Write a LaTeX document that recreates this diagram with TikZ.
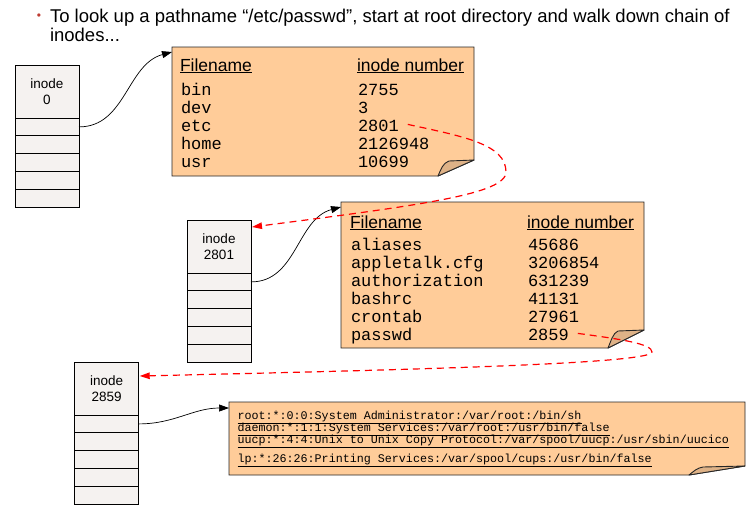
\documentclass[tikz,border=0pt]{standalone}
\usepackage{fontspec}
\setmainfont{Liberation Sans}
\newfontfamily\monof{Liberation Mono}
\usetikzlibrary{arrows.meta,calc}
\definecolor{peach}{RGB}{255,204,153}
\definecolor{foldc}{RGB}{222,178,135}
\definecolor{inodec}{RGB}{245,242,240}
\definecolor{bulletc}{RGB}{190,60,50}
\definecolor{redline}{RGB}{255,0,0}
\newcommand{\titlesize}{\fontsize{18.5pt}{19pt}\selectfont}
\begin{document}
\begin{tikzpicture}[x=1pt,y=-1pt,
  inodetop/.style={draw=black, fill=inodec, line width=0.9pt, minimum width=64pt, minimum height=53pt, inner sep=0pt, outer sep=0pt, align=center, font=\fontsize{13.5}{16}\selectfont},
  inodecell/.style={draw=black, fill=inodec, line width=0.9pt, minimum width=64pt, minimum height=17.8pt, inner sep=0pt, outer sep=0pt, anchor=north},
  frame/.style={inner sep=0pt, outer sep=0pt},
  body/.style={fill=peach, draw=black!85, line width=0.9pt, line join=miter},
  fold/.style={fill=foldc, draw=black!85, line width=0.9pt, line join=round},
  txt/.style={anchor=base west, inner sep=0pt, outer sep=0pt},
  hdr/.style={txt, font=\fontsize{17.5}{18}\selectfont},
  mono/.style={txt, font=\monof\fontsize{17}{18}\selectfont},
  tiny/.style={txt, font=\monof\fontsize{11.7}{12}\selectfont},
  link/.style={-{Triangle[length=10pt,width=7pt]}, line width=0.7pt, black},
  ptr/.style={-{Triangle[length=10pt,width=6.5pt]}, draw=redline, dash pattern=on 7pt off 5pt, line width=1.2pt},
]
\useasboundingbox (0,0) rectangle (752,512);

% title
\node[inner sep=0pt, font=\fontsize{12}{12}\selectfont] (bul) at (39,16.5) {\textcolor{bulletc}{\textbullet}};
\node[txt] (title1) at (50,22) {\titlesize To look up a pathname “/etc/passwd”, start at root directory and walk down chain of};
\node[txt] (title2) at (50,41) {\titlesize inodes...};

% inode 0
\node[inodetop] (i0) at (47,91.5) {inode\\0};
\node[inodecell] (i0c1) at (i0.south) {};
\node[inodecell] (i0c2) at (i0c1.south) {};
\node[inodecell] (i0c3) at (i0c2.south) {};
\node[inodecell] (i0c4) at (i0c3.south) {};
\node[inodecell] (i0c5) at (i0c4.south) {};

% inode 2801
\node[inodetop] (i1) at (219,246.5) {inode\\2801};
\node[inodecell] (i1c1) at (i1.south) {};
\node[inodecell] (i1c2) at (i1c1.south) {};
\node[inodecell] (i1c3) at (i1c2.south) {};
\node[inodecell] (i1c4) at (i1c3.south) {};
\node[inodecell] (i1c5) at (i1c4.south) {};

% inode 2859
\node[inodetop] (i2) at (106.7,388.5) {inode\\2859};
\node[inodecell] (i2c1) at (i2.south) {};
\node[inodecell] (i2c2) at (i2c1.south) {};
\node[inodecell] (i2c3) at (i2c2.south) {};
\node[inodecell] (i2c4) at (i2c3.south) {};
\node[inodecell] (i2c5) at (i2c4.south) {};

% table 1 (root directory)
\node[frame, minimum width=302pt, minimum height=129pt] (t1) at (323,111.5) {};
\path[body] (t1.north west) -- (t1.north east) -- ($(t1.south east)+(0,-16)$) -- ($(t1.south east)+(-36,0)$) -- (t1.south west) -- cycle;
\path[fold] ($(t1.south east)+(-36,0)$) .. controls ($(t1.south east)+(-33,-7)$) and ($(t1.south east)+(-31,-13)$) .. ($(t1.south east)+(-25,-15)$) -- ($(t1.south east)+(0,-16)$) -- cycle;
\node[hdr] (t1h1) at (180,71) {\underline{Filename}};
\node[hdr] (t1h2) at (357,71) {\underline{inode number}};
\node[mono] (t1r1a) at (181,95) {bin};      \node[mono] (t1r1b) at (358,95) {2755};
\node[mono] (t1r2a) at (181,113) {dev};     \node[mono] (t1r2b) at (358,113) {3};
\node[mono] (t1r3a) at (181,131) {etc};     \node[mono] (t1r3b) at (358,131) {2801};
\node[mono] (t1r4a) at (181,149) {home};    \node[mono] (t1r4b) at (358,149) {2126948};
\node[mono] (t1r5a) at (181,167) {usr};     \node[mono] (t1r5b) at (358,167) {10699};

% table 2 (/etc)
\node[frame, minimum width=303pt, minimum height=146pt] (t2) at (492.5,275) {};
\path[body] (t2.north west) -- (t2.north east) -- ($(t2.south east)+(0,-18)$) -- ($(t2.south east)+(-36,0)$) -- (t2.south west) -- cycle;
\path[fold] ($(t2.south east)+(-36,0)$) .. controls ($(t2.south east)+(-33,-7)$) and ($(t2.south east)+(-31,-15)$) .. ($(t2.south east)+(-26,-17)$) -- ($(t2.south east)+(0,-18)$) -- cycle;
\node[hdr] (t2h1) at (350,228) {\underline{Filename}};
\node[hdr] (t2h2) at (527,228) {\underline{inode number}};
\node[mono] (t2r1a) at (351,250) {aliases};        \node[mono] (t2r1b) at (528,250) {45686};
\node[mono] (t2r2a) at (351,268) {appletalk.cfg};  \node[mono] (t2r2b) at (528,268) {3206854};
\node[mono] (t2r3a) at (351,286) {authorization};  \node[mono] (t2r3b) at (528,286) {631239};
\node[mono] (t2r4a) at (351,304) {bashrc};         \node[mono] (t2r4b) at (528,304) {41131};
\node[mono] (t2r5a) at (351,322) {crontab};        \node[mono] (t2r5b) at (528,322) {27961};
\node[mono] (t2r6a) at (351,340) {passwd};         \node[mono] (t2r6b) at (528,340) {2859};

% table 3 (passwd file contents)
\node[frame, minimum width=516pt, minimum height=73pt] (t3) at (487,438.5) {};
\path[body] (t3.north west) -- (t3.north east) -- ($(t3.south east)+(0,-9)$) -- ($(t3.south east)+(-56,0)$) -- (t3.south west) -- cycle;
\path[fold] ($(t3.south east)+(-56,0)$) .. controls ($(t3.south east)+(-51,-4)$) and ($(t3.south east)+(-48,-7)$) .. ($(t3.south east)+(-42,-8)$) -- ($(t3.south east)+(0,-9)$) -- cycle;
\node[tiny] (t3l1) at (237.5,419) {\underline{root:*:0:0:System Administrator:/var/root:/bin/sh}};
\node[tiny] (t3l2) at (237.5,431.5) {\underline{daemon:*:1:1:System Services:/var/root:/usr/bin/false}};
\node[tiny] (t3l3) at (237.5,443.5) {\underline{uucp:*:4:4:Unix to Unix Copy Protocol:/var/spool/uucp:/usr/sbin/uucico}};
\node[tiny] (t3l4) at (237.5,462.5) {\underline{lp:*:26:26:Printing Services:/var/spool/cups:/usr/bin/false}};

% connector end points
\coordinate (t1in) at ($(t1.north west)+(0,5)$);
\coordinate (t2in) at ($(t2.north west)+(0,5)$);
\coordinate (t3in) at ($(t3.north west)+(0,6)$);
\coordinate (r1s) at ($(t1r3b.east)+(9,-1)$);
\coordinate (r1m) at (506,172);
\coordinate (i1in) at ($(i1.north east)+(1,7)$);
\coordinate (r2s) at ($(t2r6b.east)+(9,-1)$);
\coordinate (r2m) at (652,352);
\coordinate (i2in) at ($(i2.north east)+(1,14)$);

% block pointers
\draw[link] (i0c1.east) to[out=0,in=195] (t1in);
\draw[link] (i1c1.east) to[out=0,in=195] (t2in);
\draw[link] (i2c1.east) to[out=0,in=180] (t3in);

% directory entry -> inode
\draw[ptr] (r1s) .. controls ($(r1s)+(55,12)$) and ($(r1m)+(0,-28)$) .. (r1m)
               .. controls ($(r1m)+(0,22)$) and ($(i1in)+(170,-22)$) .. (i1in);
\draw[ptr] (r2s) .. controls ($(r2s)+(45,6)$) and ($(r2m)+(0,-8)$) .. (r2m)
               .. controls ($(r2m)+(0,12)$) and ($(i2in)+(260,-6)$) .. (i2in);
\end{tikzpicture}
\end{document}
